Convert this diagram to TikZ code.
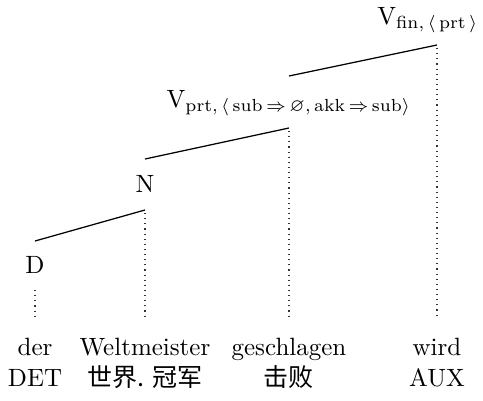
\documentclass[tikz,border=0pt]{standalone}
\usepackage{amsmath, amssymb}
\usepackage{fontspec}
\newfontfamily\cjk{Noto Sans CJK SC}
\usetikzlibrary{calc}

\begin{document}
\begin{tikzpicture}[x=0.4pt,y=-0.4pt]

\tikzset{
  cat/.style={anchor=base, inner sep=0pt},
  word/.style={anchor=base, inner sep=0pt},
  edge/.style={black, line width=0.5pt},
  proj/.style={black!80, line width=0.45pt, dash pattern=on 0.45pt off 1.6pt}
}

\useasboundingbox (0,0) rectangle (483,401);

% Categories
\node[cat, anchor=base east] (vfin) at (479, 24) {$\mathrm{V}_{\text{fin,}\,\langle\,\text{prt}\,\rangle}$};
\node[cat] (vprt) at (289,107) {$\mathrm{V}_{\text{prt,}\,\langle\,\text{sub}\,\Rightarrow\,\varnothing\text{,}\,\text{akk}\,\Rightarrow\,\text{sub}\rangle}$};
\node[cat] (n)    at (145,192) {N};
\node[cat] (d)    at ( 35,273) {D};

% Words and glosses
\node[word] (der)          at ( 35,355) {der};
\node[word] (weltmeister)  at (145,355) {Weltmeister};
\node[word] (geschlagen)   at (289,355) {geschlagen};
\node[word] (wird)         at (437,355) {wird};
\node[word] (det)          at ( 35,387) {DET};
\node[word] (weltglosse)   at (145,387) {\cjk 世界. 冠军};
\node[word] (schlagglosse) at (289,387) {\cjk 击败};
\node[word] (aux)          at (437,387) {AUX};

% Tree edges
\draw[edge] ($(vprt.base)+(0,-31)$) -- ($(vfin.base -| wird.base)+(0,21)$);
\draw[edge] ($(n.base)+(0,-33)$)    -- ($(vprt.base)+(0,21)$);
\draw[edge] ($(d.base)+(0,-32)$)    -- ($(n.base)+(0,18)$);

% Projection lines
\draw[proj] ($(vfin.base -| wird.base)+(0,24)$) -- ($(wird.base)+(0,-37)$);
\draw[proj] ($(vprt.base)+(0,24)$) -- ($(geschlagen.base)+(0,-37)$);
\draw[proj] ($(n.base)+(0,21)$)    -- ($(weltmeister.base)+(0,-37)$);
\draw[proj] ($(d.base)+(0,17)$)    -- ($(der.base)+(0,-37)$);

\end{tikzpicture}
\end{document}
